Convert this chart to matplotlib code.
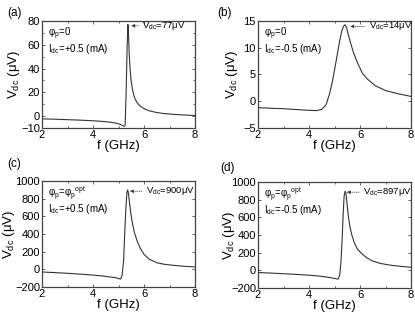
import numpy as np
from matplotlib import pyplot as plt
from matplotlib.ticker import MultipleLocator

plt.rcParams['font.family'] = ['Liberation Sans', 'DejaVu Sans']
plt.rcParams['mathtext.default'] = 'regular'

# values (f in GHz, Vdc in uV)
f_a = [2.0, 2.5, 3.0, 3.5, 4.0, 4.4, 4.7, 4.9, 5.05, 5.15, 5.22, 5.26, 5.30, 5.34, 5.37,
       5.39, 5.42, 5.46, 5.50, 5.56, 5.63, 5.72, 5.85, 6.0, 6.2, 6.5, 6.8, 7.2, 7.6, 8.0]
v_a = [-2.3, -2.6, -3.0, -3.4, -3.9, -4.5, -5.2, -5.9, -6.8, -7.8, -8.6, -8.0, 20, 60, 77,
       70, 52, 38, 29, 21, 15.5, 11.5, 8.5, 6.3, 4.5, 3.0, 2.1, 1.4, 0.9, 0.5]

f_b = [2.0, 2.5, 3.0, 3.5, 4.0, 4.3, 4.5, 4.65, 4.7, 4.8, 4.9, 5.0, 5.1, 5.2, 5.28, 5.35,
       5.41, 5.47, 5.55, 5.65, 5.75, 5.9, 6.1, 6.3, 6.6, 7.0, 7.5, 8.0]
v_b = [-1.2, -1.3, -1.4, -1.55, -1.7, -1.75, -1.5, -0.8, -0.2, 1.3, 3.3, 5.8, 8.5, 11.2, 13.0, 14.0,
       14.3, 13.8, 12.3, 10.6, 9.0, 7.2, 5.2, 4.1, 2.9, 2.0, 1.4, 0.9]

f_c = [2.0, 2.5, 3.0, 3.5, 4.0, 4.4, 4.7, 4.9, 5.0, 5.08, 5.14, 5.2, 5.25, 5.29, 5.33,
       5.36, 5.39, 5.43, 5.48, 5.54, 5.62, 5.72, 5.85, 6.0, 6.2, 6.5, 6.8, 7.2, 7.6, 8.0]
v_c = [-30, -37, -45, -54, -65, -76, -88, -95, -105, -110, -70, 100, 450, 690, 870,
       900, 860, 760, 640, 530, 420, 330, 240, 170, 115, 75, 57, 44, 34, 27]

f_d = [2.0, 2.5, 3.0, 3.5, 4.0, 4.4, 4.7, 4.9, 5.05, 5.14, 5.2, 5.25, 5.3, 5.34, 5.38,
       5.42, 5.45, 5.49, 5.54, 5.6, 5.68, 5.78, 5.9, 6.05, 6.25, 6.5, 6.8, 7.2, 7.6, 8.0]
v_d = [-25, -31, -38, -46, -55, -65, -76, -86, -95, -100, -60, 80, 350, 640, 850,
       897, 870, 760, 620, 500, 400, 310, 240, 195, 145, 105, 78, 58, 45, 35]

labels = ['(a)', '(b)', '(c)', '(d)']
phi_text = ['φ$_p$=0', 'φ$_p$=0', 'φ$_p$=φ$_p$$^{opt}$', 'φ$_p$=φ$_p$$^{opt}$']
idc_text = ['I$_{dc}$=+0.5 (mA)', 'I$_{dc}$=-0.5 (mA)', 'I$_{dc}$=+0.5 (mA)', 'I$_{dc}$=-0.5 (mA)']
peak_text = ['V$_{dc}$=77μV', 'V$_{dc}$=14μV', 'V$_{dc}$=900μV', 'V$_{dc}$=897μV']

fig = plt.figure(figsize=(4.15, 3.16), dpi=100)

# axes boxes in pixels: left, top, right, bottom
boxes = [(42, 21, 195, 128), (258, 21, 411, 128), (42, 181, 195, 287), (258, 182, 411, 288)]
ylims = [(-10, 80), (-5, 15), (-200, 1000), (-200, 1000)]
yticks = [[-10, 0, 20, 40, 60, 80], [-5, 0, 5, 10, 15],
          [-200, 0, 200, 400, 600, 800, 1000], [-200, 0, 200, 400, 600, 800, 1000]]
yminor = [10, 5, 200, 200]
# right edge of the rotated y label, in axes fraction
ylab_x = [-0.13, -0.12, -0.165, -0.14]
arrow_xy = [(5.5, 76), (5.62, 14), (5.45, 885), (5.48, 885)]
text_xy = [(5.94, 76), (6.34, 14), (6.08, 885), (6.12, 885)]
data = [(f_a, v_a), (f_b, v_b), (f_c, v_c), (f_d, v_d)]
lab_pos = [(7, 13), (217, 13), (7, 164), (220, 168)]

for i in range(4):
    l, t, r, b = boxes[i]
    ax = fig.add_axes([l / 415, 1 - b / 316, (r - l) / 415, (b - t) / 316])
    f, v = data[i]
    ax.plot(f, v, color='#333333', lw=0.8)
    ax.set_xlim(2, 8)
    ax.set_ylim(*ylims[i])
    ax.set_xticks([2, 4, 6, 8])
    ax.xaxis.set_minor_locator(MultipleLocator(1))
    ax.set_yticks(yticks[i])
    ax.yaxis.set_minor_locator(MultipleLocator(yminor[i]))
    ax.tick_params(which='both', direction='in', top=True, right=True,
                   labelsize=8, pad=1.5, color='#444444', width=0.6)
    ax.tick_params(which='major', length=2.5)
    ax.tick_params(which='minor', length=1.5)
    for s in ax.spines.values():
        s.set_color('#444444')
        s.set_linewidth(0.9)
    ax.set_xlabel('f (GHz)', fontsize=9.5, labelpad=0)
    ax.set_ylabel('V$_{dc}$ ($\\mu$V)', fontsize=9.5)
    ax.yaxis.set_label_coords(ylab_x[i], 0.5)

    ax.text(0.04, 0.88, phi_text[i], transform=ax.transAxes, fontsize=7,
            ha='left', va='center')
    ax.text(0.04, 0.74, idc_text[i], transform=ax.transAxes, fontsize=7,
            ha='left', va='center')
    ax.annotate(peak_text[i], xy=arrow_xy[i], xytext=text_xy[i], fontsize=6.8,
                ha='left', va='center',
                arrowprops=dict(arrowstyle='-|>', ls=(0, (1.5, 1.5)), lw=0.5,
                                color='#333333', shrinkA=1, shrinkB=0,
                                mutation_scale=5))

    fig.text(lab_pos[i][0] / 415, 1 - lab_pos[i][1] / 316, labels[i], fontsize=8.5,
             ha='left', va='center')

fig.savefig('out.png', dpi=100)
